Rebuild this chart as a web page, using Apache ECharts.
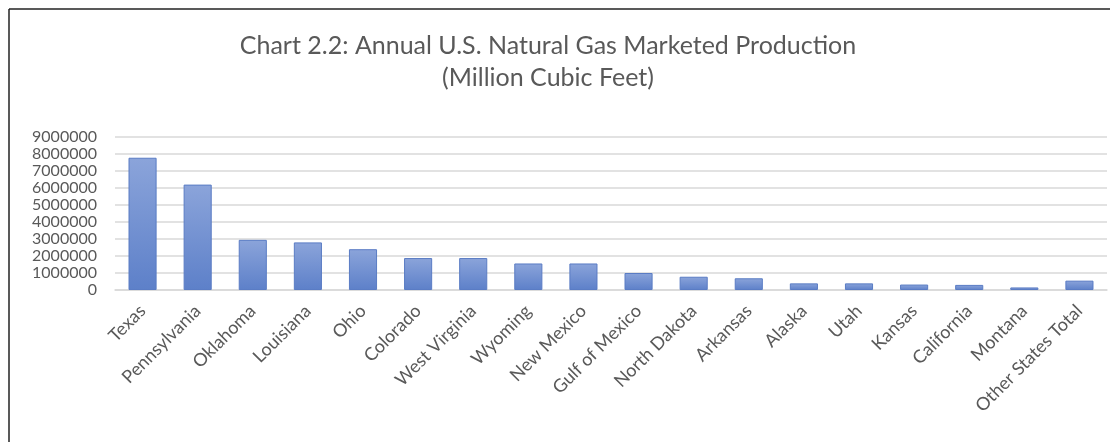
<!DOCTYPE html>
<html><head><meta charset="utf-8">
<script src="https://cdn.jsdelivr.net/npm/echarts@6/dist/echarts.min.js"></script>
<style>html,body{margin:0;padding:0;background:#fff}#c{width:1110px;height:442px}</style>
</head><body><div id="c"></div>
<script>
const titleLines = ['Chart 2.2: Annual U.S. Natural Gas Marketed Production', '(Million Cubic Feet)'];
const categories = ['Texas','Pennsylvania','Oklahoma','Louisiana','Ohio','Colorado','West Virginia','Wyoming','New Mexico','Gulf of Mexico','North Dakota','Arkansas','Alaska','Utah','Kansas','California','Montana','Other States Total'];
const production = [7780000,6200000,2950000,2800000,2400000,1880000,1880000,1560000,1560000,1000000,780000,690000,390000,390000,320000,300000,150000,550000];
const yMax = 9000000;
const yInterval = 1000000;

const chart = echarts.init(document.getElementById('c'), null, {renderer:'canvas'});
chart.setOption({
  animation:false,
  backgroundColor:'#fff',
  title:{
    text: titleLines.join('\n'),
    left: 543, textAlign:'center', top:25,
    textStyle:{fontFamily:'Lato', fontSize:25, fontWeight:'normal', color:'#595959', lineHeight:32}
  },
  graphic:[
    {type:'line', shape:{x1:9,y1:9,x2:1110,y2:9}, style:{stroke:'#222', lineWidth:1.5}},
    {type:'line', shape:{x1:9,y1:9,x2:9,y2:442}, style:{stroke:'#222', lineWidth:1.5}}
  ],
  grid:{left:115, right:3, top:137, height:153, containLabel:false},
  xAxis:{
    type:'category', data:categories,
    axisLine:{lineStyle:{color:'#d9d9d9', width:1.5}},
    axisTick:{show:false},
    axisLabel:{rotate:45, interval:0, margin:18, fontFamily:'Lato', fontSize:18, color:'#595959'}
  },
  yAxis:{
    type:'value', min:0, max:yMax, interval:yInterval,
    axisLine:{show:false}, axisTick:{show:false},
    splitLine:{lineStyle:{color:'#d9d9d9', width:1.5}},
    axisLabel:{fontFamily:'Lato', fontSize:16, color:'#595959', margin:18, formatter:v=>String(v)}
  },
  series:[{
    type:'bar', data:production, barWidth:'51%',
    itemStyle:{
      color:new echarts.graphic.LinearGradient(0,0,0,1,[{offset:0,color:'#8ba4da'},{offset:1,color:'#5d80c9'}]),
      borderColor:'#5a7cc4', borderWidth:1
    }
  }]
});
</script></body></html>
